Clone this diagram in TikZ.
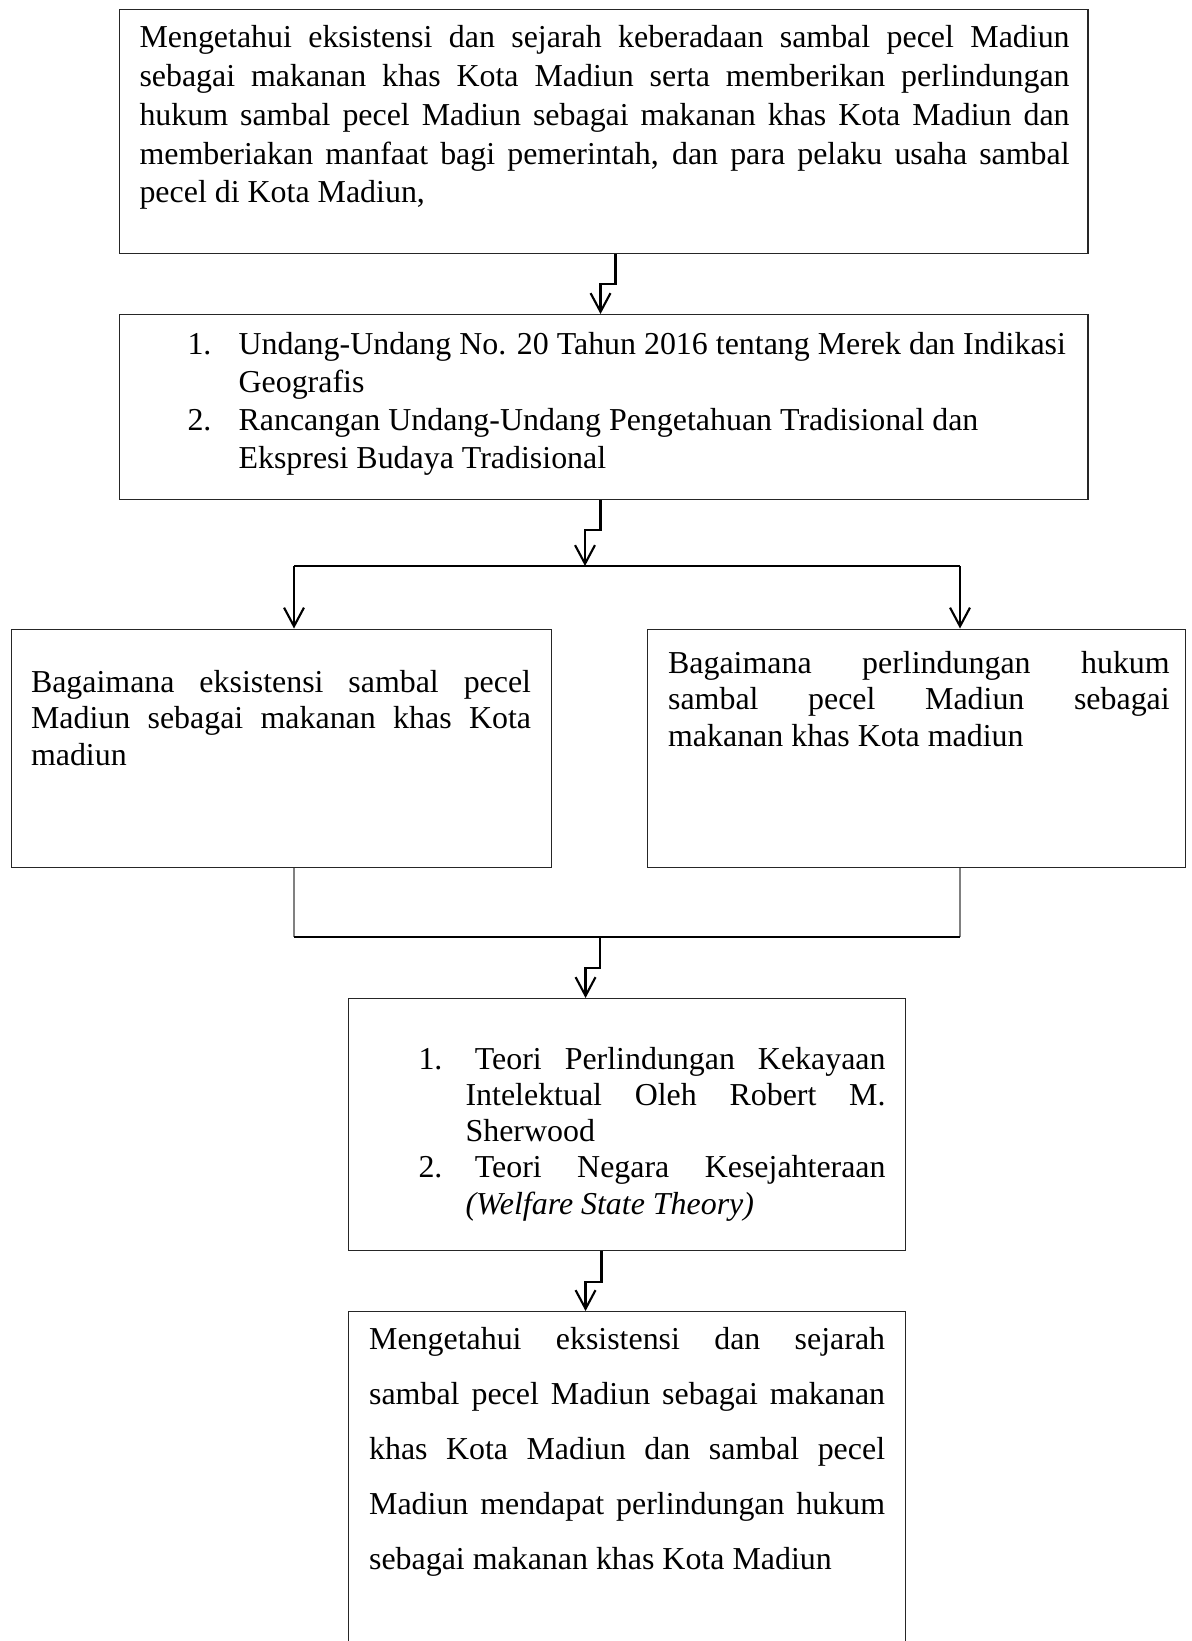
\documentclass[tikz,border=0pt]{standalone}
\usepackage{fontspec}
\setmainfont{Liberation Serif}
\usetikzlibrary{arrows.meta,calc}
\tolerance=10000
\hyphenpenalty=10000

\begin{document}
\begin{tikzpicture}[x=0.376pt,y=-0.376pt,
	kotak/.style={draw=black!85,line width=0.45pt,inner sep=0pt,anchor=north west},
	isi/.style={inner sep=0pt,anchor=base west,align=justify},
	daftar/.style={inner sep=0pt,anchor=base west},
	panah/.style={line width=0.8pt,-{Straight Barb[length=7pt,width=7.5pt,line width=0.8pt]}},
	garis/.style={line width=0.5pt},
	abu/.style={draw=black!50,line width=0.45pt}]
			\useasboundingbox (0,0) rectangle (1191,1641);
			\clip (0,0) rectangle (1191,1641);
			%Tujuan
			\node[kotak,minimum width=364.3pt,minimum height=91.7pt] (tujuan) at (118.5,9) {};
			\node[isi,text width=349.7pt,font=\fontsize{12}{14.57}\selectfont] (tujuanteks) at (139,48)
			{Mengetahui eksistensi dan sejarah keberadaan sambal pecel Madiun\linebreak sebagai makanan khas Kota Madiun serta memberikan perlindungan\linebreak hukum sambal pecel Madiun sebagai makanan khas Kota Madiun dan\linebreak memberiakan manfaat bagi pemerintah, dan para pelaku usaha sambal\linebreak pecel di Kota Madiun,};
			%Dasar hukum
			\node[kotak,minimum width=364.3pt,minimum height=69.6pt] (dasar) at (118.5,314) {};
			\node[daftar,font=\fontsize{12}{14.3}\selectfont] (dasarteks) at (187,354)
			{\begin{minipage}[t]{340pt}
			\parshape 4 0pt 340pt 19.2pt 320.8pt 0pt 340pt 19.2pt 320.8pt
			\noindent\makebox[19.2pt][l]{1.}Undang-Undang No. 20 Tahun 2016 tentang Merek dan Indikasi\newline Geografis\newline
			\makebox[19.2pt][l]{2.}Rancangan Undang-Undang Pengetahuan Tradisional dan\newline Ekspresi Budaya Tradisional
			\end{minipage}};
			%Rumusan masalah
			\node[kotak,minimum width=203.2pt,minimum height=89.7pt] (masalah1) at (10.5,628.5) {};
			\node[kotak,minimum width=202.3pt,minimum height=89.7pt] (masalah2) at (647,628.5) {};
			\node[isi,text width=188pt,font=\fontsize{12}{13.75}\selectfont] (masalah1teks) at (30.5,692)
			{Bagaimana eksistensi sambal pecel\linebreak Madiun sebagai makanan khas Kota\linebreak madiun};
			\node[isi,text width=188.6pt,font=\fontsize{12}{13.9}\selectfont] (masalah2teks) at (667.6,673)
			{Bagaimana perlindungan hukum\linebreak sambal pecel Madiun sebagai\linebreak makanan khas Kota madiun};
			%Teori
			\node[kotak,minimum width=209.4pt,minimum height=94.8pt] (teori) at (348,998) {};
			\node[daftar,font=\fontsize{12}{13.63}\selectfont] (teoriteks) at (418,1069)
			{\begin{minipage}[t]{175.6pt}
			\parshape 5 0pt 175.6pt 17.7pt 157.9pt 17.7pt 157.9pt 0pt 175.6pt 17.7pt 157.9pt
			\noindent\makebox[17.7pt][l]{1.}\hspace{3.5pt}Teori Perlindungan Kekayaan\linebreak Intelektual Oleh Robert M.\linebreak Sherwood\newline
			\makebox[17.7pt][l]{2.}\hspace{3.5pt}Teori Negara Kesejahteraan\linebreak \textit{(Welfare State Theory)}
			\end{minipage}};
			%Hasil
			\node[kotak,minimum width=209.4pt,minimum height=140pt] (hasil) at (348,1311) {};
			\node[isi,text width=194pt,font=\fontsize{12}{20.7}\selectfont] (hasilteks) at (368.6,1349)
			{Mengetahui eksistensi dan sejarah\linebreak sambal pecel Madiun sebagai makanan\linebreak khas Kota Madiun dan sambal pecel\linebreak Madiun mendapat perlindungan hukum\linebreak sebagai makanan khas Kota Madiun};
			%Panah
			\coordinate (cabang) at (585,566);
			\coordinate (cabangkiri) at (294,566);
			\coordinate (cabangkanan) at (960,566);
			\coordinate (gabung) at (600,937);
			\coordinate (gabungkiri) at (294,937);
			\coordinate (gabungkanan) at (960,937);
			\draw[panah] ($(tujuan.south)+(12,0)$) -- ++(0,30) -| ($(dasar.north)+(-3,0)$);
			\draw[panah] ($(dasar.south)+(-3,0)$) -- ++(0,30) -| (cabang);
			\draw[garis] (cabangkiri) -- (cabangkanan);
			\draw[panah,line width=0.6pt] (cabangkiri) -- (cabangkiri |- masalah1.north);
			\draw[panah,line width=0.6pt] (cabangkanan) -- (cabangkanan |- masalah2.north);
			\draw[abu] (gabungkiri |- masalah1.south) -- (gabungkiri);
			\draw[abu] (gabungkanan |- masalah2.south) -- (gabungkanan);
			\draw[garis] (gabungkiri) -- (gabungkanan);
			\draw[panah] (gabung) -- ++(0,31) -| ($(teori.north)+(-41.5,0)$);
			\draw[panah] ($(teori.south)+(-25.5,0)$) -- ++(0,31) -| ($(hasil.north)+(-41.5,0)$);
\end{tikzpicture}
\end{document}
